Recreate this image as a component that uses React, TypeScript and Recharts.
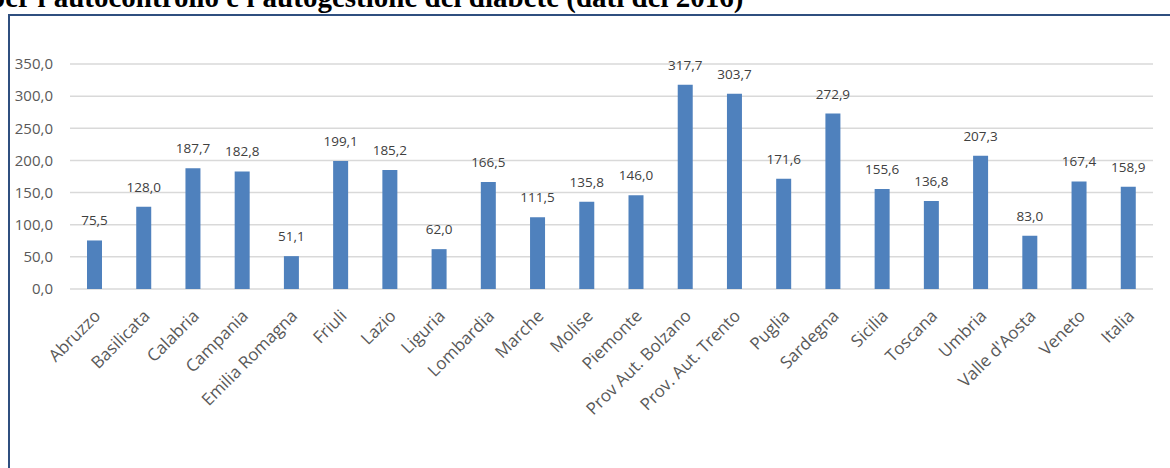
import * as React from 'react';
import { BarChart, Bar, XAxis, YAxis, CartesianGrid, LabelList } from 'recharts';

const regions = [
  'Abruzzo', 'Basilicata', 'Calabria', 'Campania', 'Emilia Romagna', 'Friuli', 'Lazio',
  'Liguria', 'Lombardia', 'Marche', 'Molise', 'Piemonte', 'Prov Aut. Bolzano',
  'Prov. Aut. Trento', 'Puglia', 'Sardegna', 'Sicilia', 'Toscana', 'Umbria',
  "Valle d'Aosta", 'Veneto', 'Italia',
];
const values = [
  75.5, 128.0, 187.7, 182.8, 51.1, 199.1, 185.2, 62.0, 166.5, 111.5, 135.8, 146.0,
  317.7, 303.7, 171.6, 272.9, 155.6, 136.8, 207.3, 83.0, 167.4, 158.9,
];
const yTicks = [0, 50, 100, 150, 200, 250, 300, 350];

const data = regions.map((name, i) => ({ name, value: values[i] }));

const FONT = '"Open Sans", sans-serif';
const fmt = (v: number) => v.toFixed(1).replace('.', ',');

function CategoryTick({ x, y, payload }: any) {
  const tx = x + 7;
  const ty = y + 28;
  return (
    <text
      x={tx}
      y={ty}
      transform={`rotate(-45 ${tx} ${ty})`}
      textAnchor="end"
      fill="#595959"
      fontSize={17}
      fontFamily={FONT}
    >
      {payload.value}
    </text>
  );
}

export default function App() {
  return (
    <div style={{ position: 'absolute', left: 0, top: 0, width: 1170, height: 468, overflow: 'hidden', background: '#fff' }}>
      <div
        style={{
          position: 'absolute',
          left: -11,
          top: -17,
          whiteSpace: 'nowrap',
          fontFamily: '"Liberation Serif", serif',
          fontWeight: 'bold',
          fontSize: 29,
          lineHeight: '29px',
          color: '#000',
        }}
      >
        per l'autocontrollo e l'autogestione del diabete (dati del 2016)
      </div>
      <div
        style={{
          position: 'absolute',
          left: 8,
          top: 14,
          width: 1200,
          height: 500,
          borderLeft: '2px solid #2F4F7F',
          borderTop: '2px solid #2F4F7F',
        }}
      />
      <div style={{ position: 'absolute', left: 0, top: 0 }}>
        <BarChart
          width={1170}
          height={468}
          data={data}
          margin={{ top: 64, right: 17, left: 0, bottom: 0 }}
          barCategoryGap={0}
        >
          <CartesianGrid vertical={false} stroke="#d9d9d9" strokeWidth={1.5} />
          <XAxis
            dataKey="name"
            height={179}
            axisLine={false}
            tickLine={false}
            tickSize={0}
            tickMargin={0}
            interval={0}
            tick={<CategoryTick />}
          />
          <YAxis
            width={70}
            domain={[0, 350]}
            ticks={yTicks}
            axisLine={false}
            tickLine={false}
            tickSize={0}
            tickMargin={17}
            tickFormatter={fmt}
            tick={{ fill: '#595959', fontSize: 15, fontFamily: FONT }}
          />
          <Bar dataKey="value" fill="#4F81BD" barSize={15} isAnimationActive={false}>
            <LabelList
              dataKey="value"
              position="top"
              offset={15}
              formatter={(v: any) => fmt(Number(v))}
              fill="#404040"
              fontSize={13.5}
              fontFamily={FONT}
            />
          </Bar>
        </BarChart>
      </div>
    </div>
  );
}
